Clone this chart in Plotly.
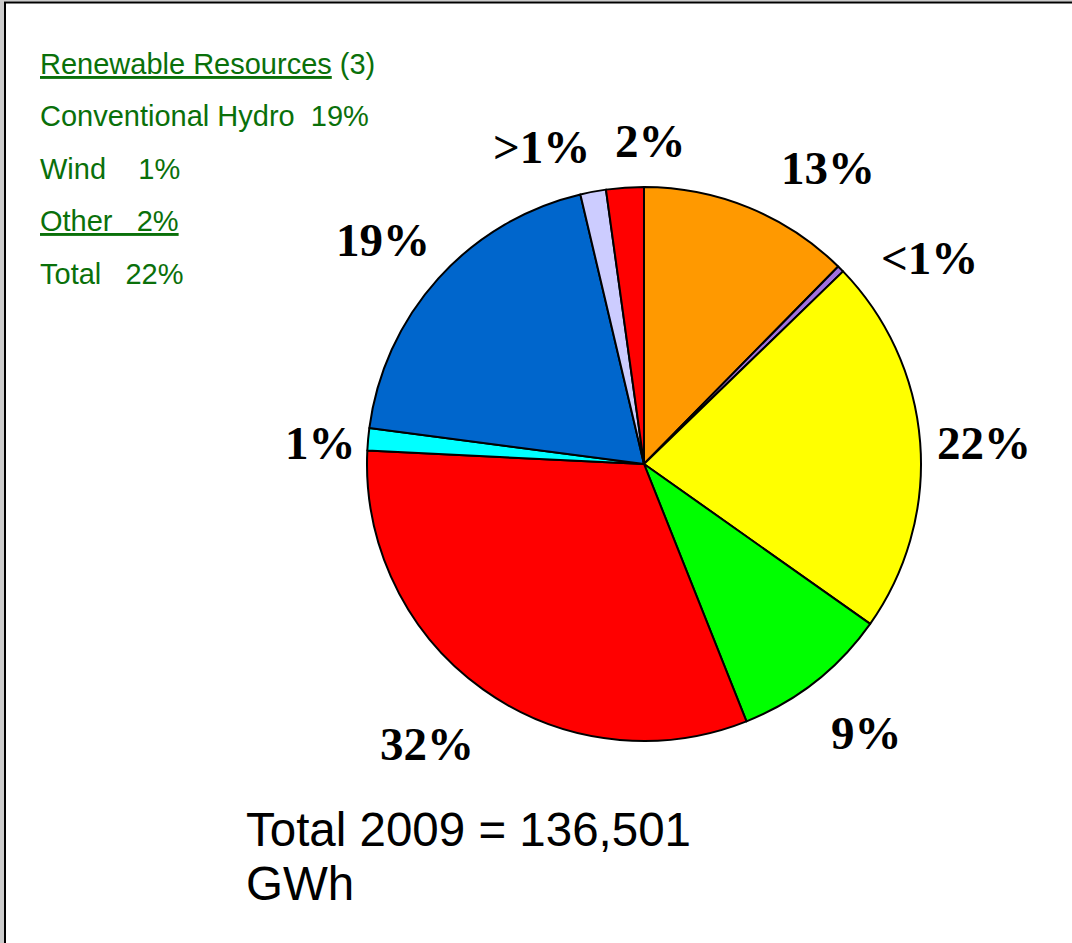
import plotly.graph_objects as go

W, H = 1072, 943

# Slice data (clockwise from 12 o'clock)
categories = ["Natural Gas", "Other Fossil", "Nuclear", "Oil", "Coal",
              "Wind", "Conventional Hydro", "Imports", "Other Renewable"]
shares = [12.4, 0.4, 22.1, 9.2, 31.9, 1.3, 19.3, 1.5, 2.2]
slice_labels = ["13%", "<1%", "22%", "9%", "32%", "1%", "19%", ">1%", "2%"]
colors = ["#ff9900", "#a070e0", "#ffff00", "#00ff00", "#ff0000",
          "#00ffff", "#0066cc", "#ccccff", "#ff0000"]

# label placement (pixel centres)
label_pos = [(828, 168), (929, 258), (984, 443), (866, 733), (427, 744),
             (320, 443), (383, 240), (541, 147), (650, 141)]

legend_lines = ["<u>Renewable Resources</u> (3)",
                "Conventional Hydro\u00a0\u00a019%",
                "Wind\u00a0\u00a0\u00a0\u00a01%",
                "<u>Other\u00a0\u00a0\u00a02%</u>",
                "Total\u00a0\u00a0\u00a022%"]
total_lines = ["Total 2009 = 136,501", "GWh"]


def px(x):
    return x / W


def py(y):
    return 1 - y / H


cx, cy, r = 644, 464, 277

fig = go.Figure(go.Pie(
    labels=categories,
    values=shares,
    sort=False,
    direction="clockwise",
    rotation=0,
    textinfo="none",
    hoverinfo="label+percent",
    marker=dict(colors=colors, line=dict(color="black", width=2)),
    domain=dict(x=[px(cx - r), px(cx + r)], y=[py(cy + r), py(cy - r)]),
    showlegend=False,
))

annotations = []
for t, (x, y) in zip(slice_labels, label_pos):
    annotations.append(dict(
        x=px(x), y=py(y), xref="paper", yref="paper", text="<b>" + t + "</b>",
        showarrow=False, xanchor="center", yanchor="middle",
        font=dict(family="Liberation Serif, Times New Roman, serif", size=47,
                  color="black", weight="bold"),
    ))

for i, t in enumerate(legend_lines):
    annotations.append(dict(
        x=px(38), y=py(64 + i * 52.5), xref="paper", yref="paper", text=t,
        showarrow=False, xanchor="left", yanchor="middle",
        font=dict(family="Liberation Sans, Arial, sans-serif", size=29,
                  color="#0a700a"),
    ))

for i, t in enumerate(total_lines):
    annotations.append(dict(
        x=px(244), y=py(829 + i * 54), xref="paper", yref="paper", text=t,
        showarrow=False, xanchor="left", yanchor="middle",
        font=dict(family="Liberation Sans, Arial, sans-serif", size=47.5,
                  color="black"),
    ))

shapes = [
    dict(type="rect", xref="paper", yref="paper", x0=0, x1=px(4), y0=0, y1=1,
         fillcolor="#cccccc", line=dict(width=0)),
    dict(type="rect", xref="paper", yref="paper", x0=0, x1=1, y0=py(1.5), y1=1,
         fillcolor="#cccccc", line=dict(width=0)),
    dict(type="line", xref="paper", yref="paper", x0=px(5), x1=px(5), y0=0, y1=py(2.5),
         line=dict(color="black", width=2)),
    dict(type="line", xref="paper", yref="paper", x0=px(4), x1=1, y0=py(2.5), y1=py(2.5),
         line=dict(color="black", width=2)),
]

fig.update_layout(
    width=W, height=H,
    margin=dict(l=0, r=0, t=0, b=0),
    paper_bgcolor="white", plot_bgcolor="white",
    annotations=annotations, shapes=shapes,
)

fig.write_html(
    "out.html",
    config={"displayModeBar": False},
    post_script="document.body.style.margin='0';document.body.style.overflow='hidden';",
)
